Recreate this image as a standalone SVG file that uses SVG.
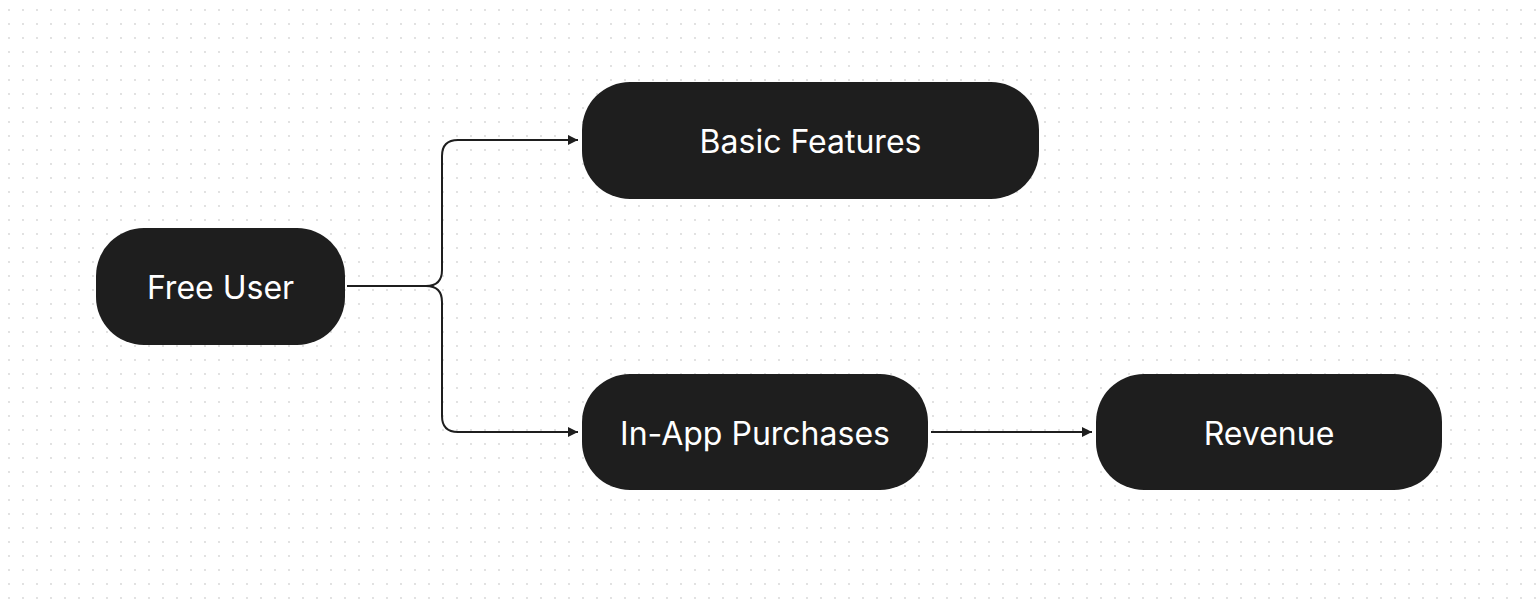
<svg xmlns="http://www.w3.org/2000/svg" width="1536" height="604" viewBox="0 0 1536 604">
<defs>
<pattern id="dots" x="2" y="3" width="14" height="14" patternUnits="userSpaceOnUse"><circle cx="7" cy="7" r="0.9" fill="#d4d4d4"/></pattern>
<marker id="arr" viewBox="0 0 10 10" refX="10" refY="5" markerWidth="10" markerHeight="10" markerUnits="userSpaceOnUse" orient="auto"><path d="M0,0 L10,5 L0,10 z" fill="#1e1e1e"/></marker>
<style>
.n{fill:#1e1e1e}
.t{fill:#fff;font-family:Inter,"Liberation Sans",sans-serif;font-size:32px;text-anchor:middle;dominant-baseline:central}
.c{fill:none;stroke:#1e1e1e;stroke-width:2}
</style>
</defs>
<rect width="1536" height="604" fill="#fff"/>
<rect width="1536" height="604" fill="url(#dots)"/>
<g id="connectors">
<path class="c" d="M347,286 H426 Q442,286 442,270 V156 Q442,140 458,140 H578" marker-end="url(#arr)"/>
<path class="c" d="M347,286 H426 Q442,286 442,302 V416 Q442,432 458,432 H578" marker-end="url(#arr)"/>
<path class="c" d="M931,432 H1092" marker-end="url(#arr)"/>
</g>
<g id="free-user"><rect class="n" x="96" y="228" width="249" height="117" rx="48"/><text class="t" x="220.5" y="287">Free User</text></g>
<g id="basic-features"><rect class="n" x="582" y="82" width="457" height="117" rx="48"/><text class="t" x="810.5" y="141">Basic Features</text></g>
<g id="in-app"><rect class="n" x="582" y="374" width="346" height="116" rx="48"/><text class="t" x="755" y="433">In-App Purchases</text></g>
<g id="revenue"><rect class="n" x="1096" y="374" width="346" height="116" rx="48"/><text class="t" x="1269" y="433">Revenue</text></g>
</svg>
